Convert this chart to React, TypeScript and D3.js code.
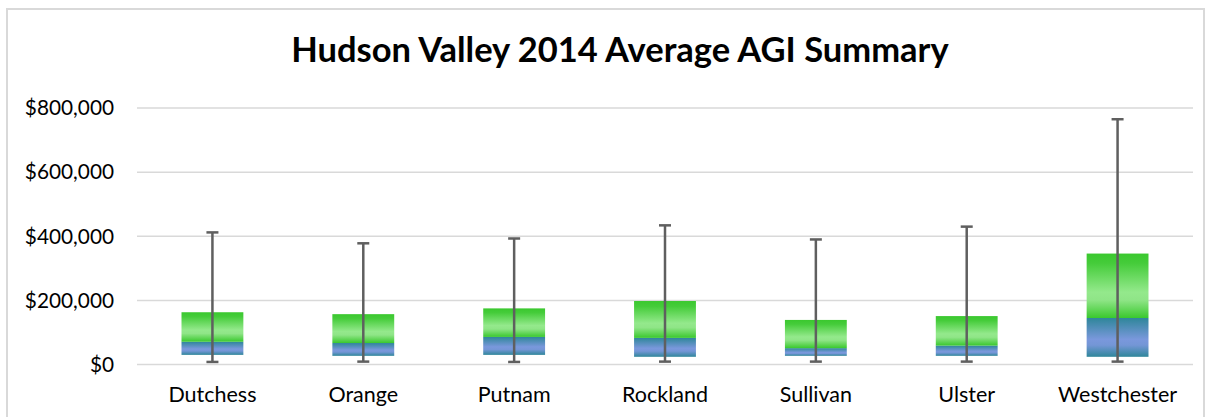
import React from "react";
import * as d3 from "d3";

const categories = ["Dutchess", "Orange", "Putnam", "Rockland", "Sullivan", "Ulster", "Westchester"];
const minVals = [8000, 9000, 8000, 9000, 9000, 9000, 9000];
const q1Vals = [30000, 27000, 30000, 24000, 27000, 27000, 24000];
const medianVals = [71000, 67000, 86000, 83000, 51000, 59000, 145000];
const q3Vals = [163000, 157000, 175000, 198000, 139000, 151000, 346000];
const maxVals = [412000, 378000, 393000, 434000, 390000, 430000, 765000];
const yTicks = [0, 200000, 400000, 600000, 800000];
const title = "Hudson Valley 2014 Average AGI Summary";

const W = 1212;
const H = 417;
const FONT = "Lato, 'Open Sans', sans-serif";

export default function App() {
  const x = d3.scaleBand<string>().domain(categories).range([137, 1193]).paddingInner(0.59).paddingOuter(0.295);
  const y = d3.scaleLinear().domain([0, 800000]).range([364.5, 108]);
  const fmt = d3.format("$,.0f");
  const bw = x.bandwidth();

  return (
    <svg width={W} height={H} style={{ position: "absolute", left: 0, top: 0, background: "#fff" }} fontFamily={FONT}>
      <defs>
        <linearGradient id="gGreen" x1="0" y1="0" x2="0" y2="1">
          <stop offset="0" stopColor="#3ac82e" />
          <stop offset="0.15" stopColor="#45cc3a" />
          <stop offset="0.6" stopColor="#94e98c" />
          <stop offset="0.72" stopColor="#8fe587" />
          <stop offset="1" stopColor="#3ac82e" />
        </linearGradient>
        <linearGradient id="gBlue" x1="0" y1="0" x2="0" y2="1">
          <stop offset="0" stopColor="#2f869a" />
          <stop offset="0.55" stopColor="#7a98dc" />
          <stop offset="0.7" stopColor="#7496d6" />
          <stop offset="1" stopColor="#2f869a" />
        </linearGradient>
      </defs>
      <rect x={0} y={0} width={W} height={H} fill="#fff" />
      <rect x={7} y={9} width={1197} height={430} fill="#fff" stroke="#d9d9d9" strokeWidth={2} />
      <text x={620} y={62} textAnchor="middle" fontSize={34.5} fontWeight={700} fill="#000">{title}</text>
      {yTicks.map((t) => (
        <g key={t}>
          <line x1={137} x2={1193} y1={y(t)} y2={y(t)} stroke="#d9d9d9" strokeWidth={1.5} />
          <text x={114} y={y(t)} dy="0.35em" textAnchor="end" fontSize={20.8} fill="#000">{fmt(t)}</text>
        </g>
      ))}
      {categories.map((c, i) => {
        const x0 = x(c)!;
        const cx = x0 + bw / 2;
        return (
          <g key={c}>
            <rect x={x0} y={y(medianVals[i])} width={bw} height={y(q1Vals[i]) - y(medianVals[i])} fill="url(#gBlue)" />
            <rect x={x0} y={y(q3Vals[i])} width={bw} height={y(medianVals[i]) - y(q3Vals[i])} fill="url(#gGreen)" />
            <line x1={cx} x2={cx} y1={y(minVals[i])} y2={y(maxVals[i])} stroke="#5f5f5f" strokeWidth={2.5} />
            <line x1={cx - 6} x2={cx + 6} y1={y(maxVals[i])} y2={y(maxVals[i])} stroke="#5f5f5f" strokeWidth={2.5} />
            <line x1={cx - 6} x2={cx + 6} y1={y(minVals[i])} y2={y(minVals[i])} stroke="#5f5f5f" strokeWidth={2.5} />
            <text x={cx} y={401.5} textAnchor="middle" fontSize={21.5} fill="#000">{c}</text>
          </g>
        );
      })}
    </svg>
  );
}
